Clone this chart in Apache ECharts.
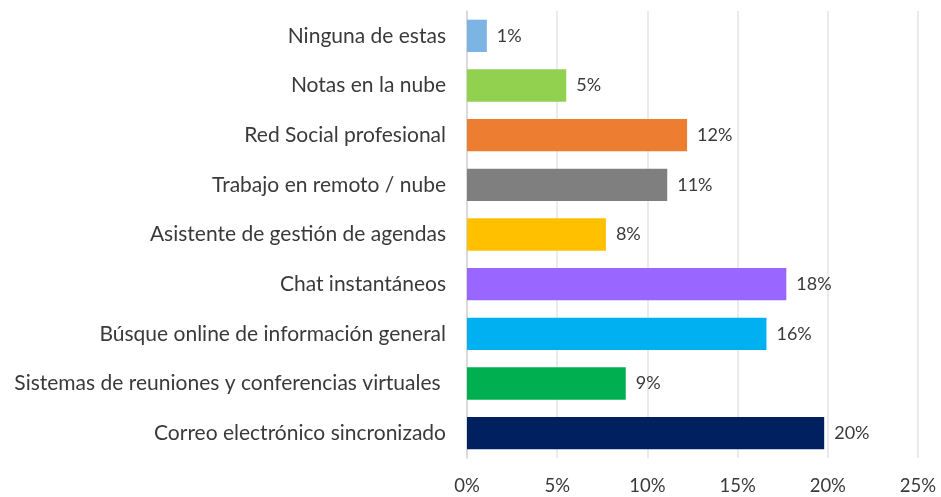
<!DOCTYPE html>
<html>
<head>
<meta charset="utf-8">
<script src="https://cdn.jsdelivr.net/npm/echarts@6/dist/echarts.min.js"></script>
<style>
  html, body { margin: 0; padding: 0; background: #fff; }
  #chart { width: 941px; height: 497px; }
</style>
</head>
<body>
<div id="chart"></div>
<script>
// bottom to top, as the category axis draws them
const categories = [
  'Correo electrónico sincronizado',
  'Sistemas de reuniones y conferencias virtuales ',
  'Búsque online de información general',
  'Chat instantáneos',
  'Asistente de gestión de agendas',
  'Trabajo en remoto / nube',
  'Red Social profesional',
  'Notas en la nube',
  'Ninguna de estas'
];
const values = [19.8, 8.8, 16.6, 17.7, 7.7, 11.1, 12.2, 5.5, 1.1];
const valueLabels = ['20%', '9%', '16%', '18%', '8%', '11%', '12%', '5%', '1%'];
const barColors = ['#002060', '#00b050', '#00b0f0', '#9966ff', '#ffc000', '#7f7f7f', '#ed7d31', '#92d050', '#7cb4e4'];

const textColor = '#3a3a3a';
const font = 'Lato';

const chart = echarts.init(document.getElementById('chart'));

const option = {
  animation: false,
  grid: {
    left: 467,
    right: 23,
    top: 11,
    bottom: 39
  },
  xAxis: {
    type: 'value',
    min: 0,
    max: 25,
    interval: 5,
    axisLine: { show: false },
    axisTick: { show: false },
    axisLabel: {
      formatter: '{value}%',
      color: textColor,
      fontFamily: font,
      fontSize: 18.5,
      margin: 19
    },
    splitLine: {
      lineStyle: { color: '#e4e4e4', width: 1.5 }
    }
  },
  yAxis: {
    type: 'category',
    data: categories,
    axisLine: {
      lineStyle: { color: '#d4d4d4', width: 1.5 }
    },
    axisTick: { show: false },
    axisLabel: {
      color: textColor,
      fontFamily: font,
      fontSize: 21,
      margin: 21
    }
  },
  series: [
    {
      type: 'bar',
      barCategoryGap: '35%',
      data: values.map(function (v, i) {
        return { value: v, itemStyle: { color: barColors[i] } };
      }),
      label: {
        show: true,
        position: 'right',
        distance: 10,
        color: textColor,
        fontFamily: font,
        fontSize: 18,
        formatter: function (p) {
          return valueLabels[p.dataIndex];
        }
      }
    }
  ]
};

chart.setOption(option);

window.addEventListener('resize', function () {
  chart.resize();
});
</script>
</body>
</html>
